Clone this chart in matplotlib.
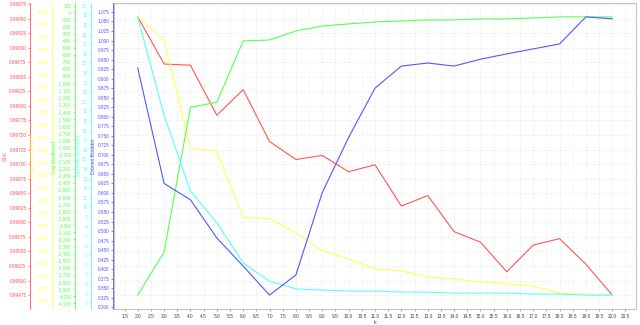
import matplotlib.pyplot as plt
from matplotlib.ticker import MultipleLocator, FuncFormatter
from matplotlib.patches import Rectangle

k = list(range(2, 21))
gini = [0.99953, 0.99872, 0.99870, 0.99784, 0.99828, 0.99739, 0.99708, 0.99715, 0.99687,
        0.99699, 0.99628, 0.99646, 0.99584, 0.99566, 0.99515, 0.99561, 0.99572, 0.99528, 0.99475]
information = [0.615, 0.569, 0.354, 0.348, 0.216, 0.214, 0.186, 0.150, 0.134, 0.114,
               0.110, 0.098, 0.094, 0.088, 0.084, 0.080, 0.066, 0.064, 0.062]
loglik = [-3987, -3377, -1336, -1265, -400, -386, -258, -188, -159, -131,
          -117, -103, -103, -88, -88, -74, -60, -60, -60]
sq_dist = [29.85, 19.6, 11.7, 8.4, 4.2, 2.3, 1.5, 1.37, 1.27, 1.27,
           1.16, 1.16, 1.06, 1.06, 1.06, 0.95, 0.95, 0.85, 0.85]
davies = [0.928, 0.625, 0.582, 0.482, 0.408, 0.332, 0.385, 0.601, 0.746, 0.875,
          0.933, 0.941, 0.933, 0.951, 0.965, 0.978, 0.991, 1.062, 1.057]

plt.rcParams['font.family'] = 'Liberation Sans'
FS = 3.4

fig = plt.figure(figsize=(6.4, 3.25), dpi=100)
ax = fig.add_axes([114 / 640, 16 / 325, 522 / 640, 306 / 325])

# name, values, colour, tick step, formatter, outward offset (px)
series = [
    ("Gini", gini, "#ff5555", 0.00025, lambda v, p: f"{v:.5f}", 84),
    ("Mutual Information", information, "#ffff55", 0.025, lambda v, p: f"{v:.3f}", 62),
    ("Log-likelihood", loglik, "#55ff55", 100, lambda v, p: f"{v:,.0f}", 39),
    ("Squared Distance", sq_dist, "#55ffff", 1, lambda v, p: f"{v:.0f}", 23),
    ("Davies Bouldin", davies, "#5555ff", 0.025, lambda v, p: f"{v:.3f}", 1),
]

for i, (name, vals, col, step, fmt, off) in enumerate(series):
    a = ax if i == 0 else ax.twinx()
    a.plot(k, vals, color=col, lw=0.8)
    a.yaxis.set_ticks_position("left")
    a.yaxis.set_label_position("left")
    a.spines["left"].set_visible(True)
    a.spines["left"].set_position(("outward", off * 0.72))
    a.spines["left"].set_color(col)
    a.spines["left"].set_linewidth(0.6)
    for s in ["right", "top", "bottom"]:
        a.spines[s].set_visible(False)
    a.yaxis.set_major_locator(MultipleLocator(step))
    a.yaxis.set_major_formatter(FuncFormatter(fmt))
    a.tick_params(axis="y", colors=col, labelsize=FS, length=1.5, width=0.5, pad=1)
    a.set_ylabel(name, color=col, fontsize=FS + 0.4, labelpad=1)

ax.grid(True, color="#e6e6e6", lw=0.5, ls=(0, (2, 2)))
ax.set_axisbelow(True)
ax.add_patch(Rectangle((0, 0), 1, 1, transform=ax.transAxes, fill=False,
                       ec="#c4c4c4", lw=0.8, clip_on=False))

ax.xaxis.set_major_locator(MultipleLocator(0.5))
ax.xaxis.set_major_formatter(FuncFormatter(lambda v, p: f"{v:.1f}"))
ax.tick_params(axis="x", colors="#808080", labelsize=FS, length=1.5, width=0.5, pad=2)
for lab in ax.get_xticklabels():
    lab.set_color("#404040")
ax.set_xlabel("k", fontsize=FS + 0.4, color="#404040", labelpad=1)

fig.savefig("out.png", dpi=100)
